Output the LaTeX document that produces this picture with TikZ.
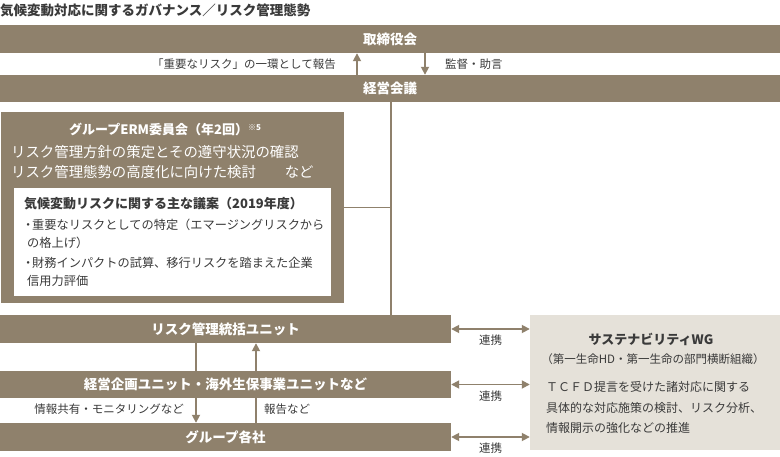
\documentclass[tikz,border=0pt]{standalone}
\usepackage{fontspec}
\setmainfont{Noto Sans CJK JP}
\usetikzlibrary{arrows.meta}
\pgfdeclarelayer{bg}
\pgfsetlayers{bg,main}
\definecolor{barc}{HTML}{8F816C}
\definecolor{wgc}{HTML}{E5E1D9}
\definecolor{txt}{HTML}{3A3A3A}
\tikzset{
  bar/.style={fill=barc, draw=none, text=white, font=\bfseries\fontsize{13.5}{16}\selectfont, inner sep=0pt},
  panel/.style={draw=none, inner sep=0pt},
  lbl/.style={text=txt, font=\fontsize{11.5}{14}\selectfont, inner sep=0pt},
  ermtxt/.style={text=white, font=\fontsize{14.4}{16}\selectfont, inner sep=0pt, anchor=west},
  intxt/.style={text=txt, font=\fontsize{12.2}{14}\selectfont, inner sep=0pt, anchor=west},
  wgtxt/.style={text=txt, font=\fontsize{12}{14}\selectfont, inner sep=0pt, anchor=west},
  conn/.style={draw=barc, line width=1.7pt},
  arr/.style={conn, -{Triangle[length=8pt,width=8pt]}},
  darr/.style={conn, {Triangle[length=8pt,width=8pt]}-{Triangle[length=8pt,width=8pt]}},
}
\begin{document}
\begin{tikzpicture}[x=1pt,y=-1pt]
\useasboundingbox (0,0) rectangle (780,457);
% title
\node[anchor=west, inner sep=0pt, text=txt, font=\bfseries\fontsize{13.5}{16}\selectfont] (title) at (0,10) {気候変動対応に関するガバナンス／リスク管理態勢};
% bars
\node[bar, minimum width=780pt, minimum height=28pt] (tb) at (390,39) {取締役会};
\node[bar, minimum width=780pt, minimum height=27pt] (km) at (390,88.5) {経営会議};
% ERM panel
\node[panel, fill=barc, minimum width=343pt, minimum height=191pt] (erm) at (172.5,207.5) {};
\node[panel, fill=white, minimum width=317pt, minimum height=108pt] (inb) at (172.5,242) {};
\node[text=white, inner sep=0pt, font=\bfseries\fontsize{13}{15}\selectfont] (ermt) at (165,129) {グループERM委員会（年2回）\raisebox{0.45ex}{\fontsize{8}{9}\selectfont ※5}};
\node[ermtxt] (erm1) at (11,152) {リスク管理方針の策定とその遵守状況の確認};
\node[ermtxt] (erm2) at (11,172) {リスク管理態勢の高度化に向けた検討　　など};
\node[intxt, font=\bfseries\fontsize{13}{15}\selectfont] (in0) at (24,204) {気候変動リスクに関する主な議案（2019年度）};
\node[intxt] (in1) at (24,225) {\makebox[8pt]{・}重要なリスクとしての特定（エマージングリスクから};
\node[intxt] (in2) at (27,243) {の格上げ）};
\node[intxt] (in3) at (24,263) {\makebox[8pt]{・}財務インパクトの試算、移行リスクを踏まえた企業};
\node[intxt] (in4) at (27,281) {信用力評価};
% lower bars
\node[bar, minimum width=451pt, minimum height=28pt] (ru) at (225.5,329) {リスク管理統括ユニット};
\node[bar, minimum width=451pt, minimum height=27pt] (kk) at (225.5,384.5) {経営企画ユニット・海外生保事業ユニットなど};
\node[bar, minimum width=451pt, minimum height=28pt] (gs) at (225.5,437) {グループ各社};
% WG panel
\node[panel, fill=wgc, minimum width=250pt, minimum height=135pt] (wg) at (655,382.5) {};
\node[text=txt, inner sep=0pt, font=\bfseries\fontsize{13}{15}\selectfont] (wgt) at (651,339) {サステナビリティWG};
\node[text=txt, inner sep=0pt, font=\fontsize{11.5}{13}\selectfont] (wgs) at (653,359) {（第一生命HD・第一生命の部門横断組織）};
\node[wgtxt] (wg1) at (546,387) {ＴＣＦＤ提言を受けた諸対応に関する};
\node[wgtxt] (wg2) at (546,408) {具体的な対応施策の検討、リスク分析、};
\node[wgtxt] (wg3) at (546,428) {情報開示の強化などの推進};
% labels
\node[lbl, anchor=east] (l1) at (336,64) {「重要なリスク」の一環として報告};
\node[lbl, anchor=west] (l2) at (445,64) {監督・助言};
\node[lbl, anchor=east] (l3) at (184,409) {情報共有・モニタリングなど};
\node[lbl, anchor=west] (l4) at (264,409) {報告など};
\begin{pgfonlayer}{bg}
% connectors top
\draw[arr] ([xshift=-33pt]km.north) -- ([xshift=-33pt]tb.south);
\draw[arr] ([xshift=35pt]tb.south) -- ([xshift=35pt]km.north);
% ERM connection
\draw[conn] ([xshift=1pt]km.south) -- ([xshift=1pt]km.south |- ru.north);
\draw[conn] (erm.east) -- (erm.east -| km.south);
% vertical arrows between units
\draw[arr] ([xshift=-29.5pt]ru.south) -- ([xshift=-29.5pt]gs.north);
\draw[arr] ([xshift=30.5pt]gs.north) -- ([xshift=30.5pt]ru.south);
% collaboration arrows
\draw[darr] (ru.east) -- (ru.east -| wg.west) node[midway, below=5pt, lbl] (c1) {連携};
\draw[darr] (kk.east) -- (kk.east -| wg.west) node[midway, below=5pt, lbl] (c2) {連携};
\draw[darr] (gs.east) -- (gs.east -| wg.west) node[midway, below=5pt, lbl] (c3) {連携};
\end{pgfonlayer}
\end{tikzpicture}
\end{document}
